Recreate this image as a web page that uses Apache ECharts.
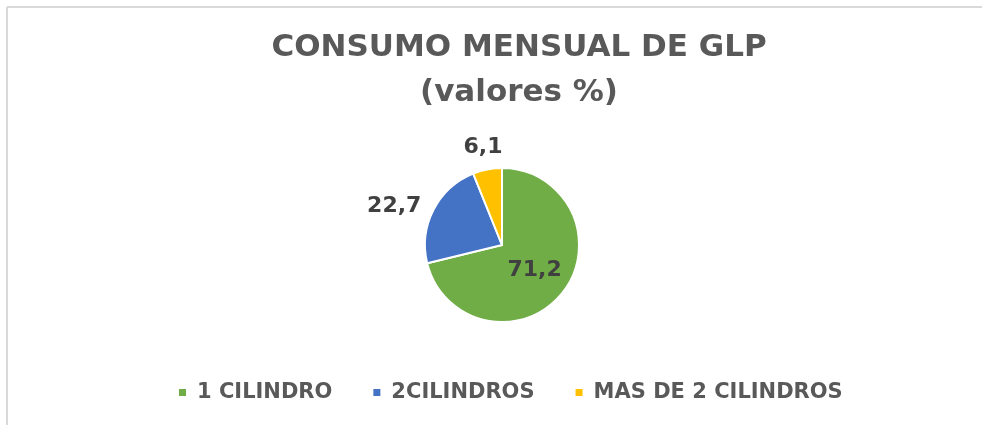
<!DOCTYPE html>
<html>
<head>
<meta charset="utf-8">
<script src="https://cdn.jsdelivr.net/npm/echarts@6/dist/echarts.min.js"></script>
<style>
  html, body { margin: 0; padding: 0; background: #fff; }
  #chart { width: 982px; height: 425px; }
</style>
</head>
<body>
<div id="chart"></div>
<script>
const categories = ["1 CILINDRO", "2CILINDROS", "MAS DE 2 CILINDROS"];
const values = [71.2, 22.7, 6.1];
const colors = ["#70AD47", "#4472C4", "#FFC000"];

const FONT = "DejaVu Sans";
const fmt = (v) => String(v).replace(".", ",");

const chart = echarts.init(document.getElementById("chart"));

// main pie: green label inside, blue label outside, yellow drawn by the ring below
const mainData = categories.map((name, i) => ({
  name,
  value: values[i],
  itemStyle: { color: colors[i] },
  label:
    i === 0
      ? { show: true, position: "inside" }
      : i === 1
      ? { show: true, position: "outside" }
      : { show: false },
}));

// transparent ring, only used to place the small slice label above the pie
const ringData = categories.map((name, i) => ({
  name,
  value: values[i],
  label: { show: i === 2 },
}));

const labelStyle = {
  fontFamily: FONT,
  fontWeight: "bold",
  fontSize: 22,
  color: "#404040",
  formatter: (p) => fmt(p.value),
};

const option = {
  animation: false,
  title: {
    text: "CONSUMO MENSUAL DE GLP\n(valores %)",
    left: 519,
    textAlign: "center",
    top: 25,
    padding: 0,
    textStyle: {
      fontFamily: FONT,
      fontWeight: "bold",
      fontSize: 31,
      lineHeight: 45,
      color: "#595959",
    },
  },
  legend: {
    data: categories,
    left: 172,
    top: 377,
    itemWidth: 9,
    itemHeight: 9,
    itemGap: 39,
    icon: "rect",
    textStyle: {
      fontFamily: FONT,
      fontWeight: "bold",
      fontSize: 21,
      color: "#595959",
      padding: [0, 0, 0, 5],
    },
  },
  graphic: [
    {
      type: "line",
      silent: true,
      shape: { x1: 7, y1: 7, x2: 1000, y2: 7 },
      style: { stroke: "#d9d9d9", lineWidth: 2 },
    },
    {
      type: "line",
      silent: true,
      shape: { x1: 7, y1: 7, x2: 7, y2: 440 },
      style: { stroke: "#d9d9d9", lineWidth: 2 },
    },
  ],
  series: [
    {
      name: "consumo",
      type: "pie",
      center: [502, 245],
      radius: 77,
      startAngle: 90,
      clockwise: true,
      avoidLabelOverlap: false,
      itemStyle: { borderColor: "#fff", borderWidth: 2 },
      label: { ...labelStyle, distanceToLabelLine: 5 },
      labelLine: { show: false, length: 8, length2: 0 },
      emphasis: { scale: false },
      data: mainData,
    },
    {
      name: "etiquetas",
      type: "pie",
      center: [502, 245],
      radius: [77, 116],
      startAngle: 90,
      clockwise: true,
      silent: true,
      itemStyle: { color: "rgba(0,0,0,0)" },
      label: { ...labelStyle, position: "inside" },
      labelLine: { show: false },
      data: ringData,
    },
  ],
};

chart.setOption(option);
</script>
</body>
</html>
